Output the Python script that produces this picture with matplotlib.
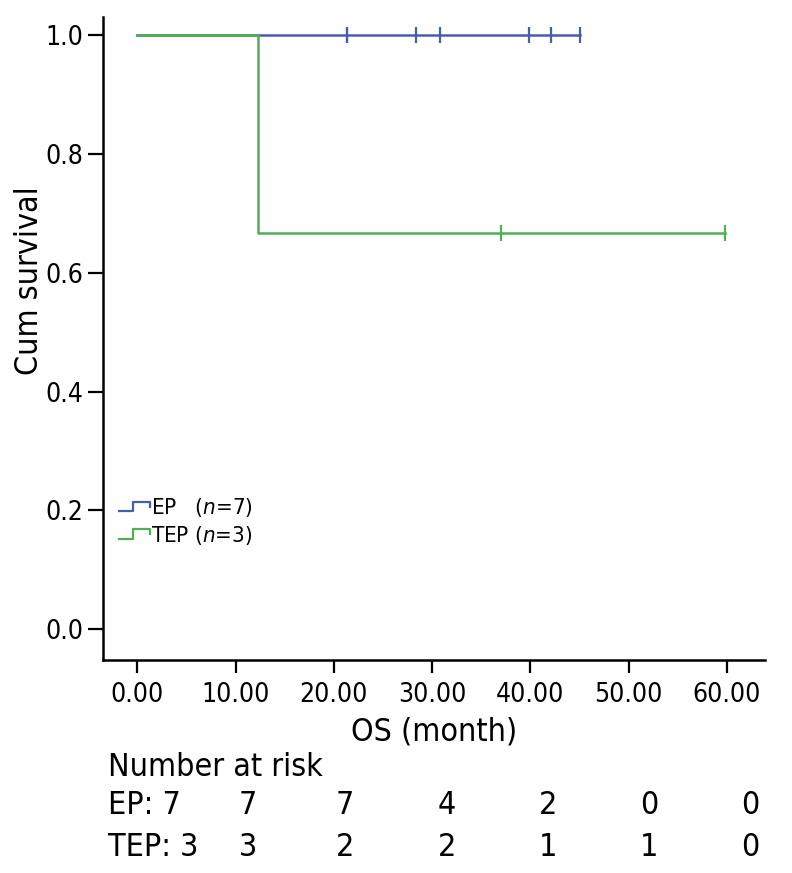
import matplotlib
matplotlib.use("Agg")
import matplotlib.pyplot as plt
import numpy as np
from matplotlib.legend_handler import HandlerBase
from matplotlib.lines import Line2D

plt.rcParams['font.family'] = ['DejaVu Sans']
plt.rcParams['font.stretch'] = 'condensed'

# survival data (months, event 1 = death, 0 = censored)
ep_time = [21.3, 21.3, 28.4, 30.8, 39.9, 42.1, 45.1]
ep_event = [0, 0, 0, 0, 0, 0, 0]
tep_time = [12.3, 37.0, 59.8]
tep_event = [1, 0, 0]

x_ticks = [0, 10, 20, 30, 40, 50, 60]
y_ticks = [0.0, 0.2, 0.4, 0.6, 0.8, 1.0]

# number at risk table
ep_risk = [7, 7, 7, 4, 2, 0, 0]
tep_risk = [3, 3, 2, 2, 1, 1, 0]

blue = '#4a5cae'
green = '#4bb152'


def km_curve(times, events):
    t = np.array(times, dtype=float)
    e = np.array(events)
    order = np.argsort(t)
    t, e = t[order], e[order]
    xs, ys = [0.0], [1.0]
    s = 1.0
    n = len(t)
    cens_x, cens_y = [], []
    for i, (ti, ei) in enumerate(zip(t, e)):
        at_risk = n - i
        if ei == 1:
            xs.append(ti); ys.append(s)
            s = s * (1 - 1.0 / at_risk)
            xs.append(ti); ys.append(s)
        else:
            cens_x.append(ti); cens_y.append(s)
    xs.append(t[-1]); ys.append(s)
    return xs, ys, cens_x, cens_y


class StepHandler(HandlerBase):
    def create_artists(self, legend, orig_handle, xdescent, ydescent,
                       width, height, fontsize, trans):
        x0 = -xdescent
        y0 = -ydescent + height * 0.2
        y1 = -ydescent + height * 0.8
        xs = [x0, x0 + width * 0.45, x0 + width * 0.45, x0 + width, x0 + width]
        ys = [y0, y0, y1, y1, y0 + (y1 - y0) * 0.5]
        ln = Line2D(xs, ys, color=orig_handle.get_color(), lw=1.6)
        ln.set_transform(trans)
        return [ln]


fig = plt.figure(figsize=(7.92, 8.73), dpi=100)
ax = fig.add_axes([0.130, 0.244, 0.836, 0.736])

ex, ey, ecx, ecy = km_curve(ep_time, ep_event)
tx, ty, tcx, tcy = km_curve(tep_time, tep_event)

h1, = ax.plot(ex, ey, color=blue, lw=1.8)
ax.plot(ecx, ecy, ls='none', marker='|', ms=11, mew=1.6, color=blue)
h2, = ax.plot(tx, ty, color=green, lw=1.8)
ax.plot(tcx, tcy, ls='none', marker='|', ms=11, mew=1.6, color=green)

ax.set_xlim(-3.5, 63.9)
ax.set_ylim(-0.052, 1.03)
ax.set_xticks(x_ticks)
ax.set_xticklabels(['%.2f' % v for v in x_ticks])
ax.set_yticks(y_ticks)
ax.set_yticklabels(['%.1f' % v for v in y_ticks])
ax.tick_params(axis='both', labelsize=19, width=1.6, length=9, direction='out')
ax.tick_params(axis='x', pad=7)
ax.tick_params(axis='y', pad=3, length=11)
for s in ['top', 'right']:
    ax.spines[s].set_visible(False)
for s in ['left', 'bottom']:
    ax.spines[s].set_linewidth(1.8)

ax.set_xlabel('OS (month)', fontsize=23, labelpad=6)
ax.set_ylabel('Cum survival', fontsize=23)
ax.yaxis.set_label_coords(-0.088, 0.591)

ax.legend([h1, h2], ['EP   ($\\mathit{n}$=7)', 'TEP ($\\mathit{n}$=3)'],
          handler_map={Line2D: StepHandler()}, loc='lower left',
          bbox_to_anchor=(0.0, 0.152), frameon=False, fontsize=16,
          handlelength=1.4, handletextpad=0.05, labelspacing=0.2,
          borderaxespad=0.3)

# number at risk table
fig.text(108 / 792, 1 - 767 / 873, 'Number at risk', fontsize=23, va='center')
col_x = [248, 345, 447, 548, 649, 750]
fig.text(108 / 792, 1 - 806 / 873, 'EP: %d' % ep_risk[0], fontsize=23, va='center')
fig.text(108 / 792, 1 - 848 / 873, 'TEP: %d' % tep_risk[0], fontsize=23, va='center')
for cx, a, b in zip(col_x, ep_risk[1:], tep_risk[1:]):
    fig.text(cx / 792, 1 - 806 / 873, str(a), fontsize=23, va='center', ha='center')
    fig.text(cx / 792, 1 - 848 / 873, str(b), fontsize=23, va='center', ha='center')

fig.savefig('out.png', dpi=100)
